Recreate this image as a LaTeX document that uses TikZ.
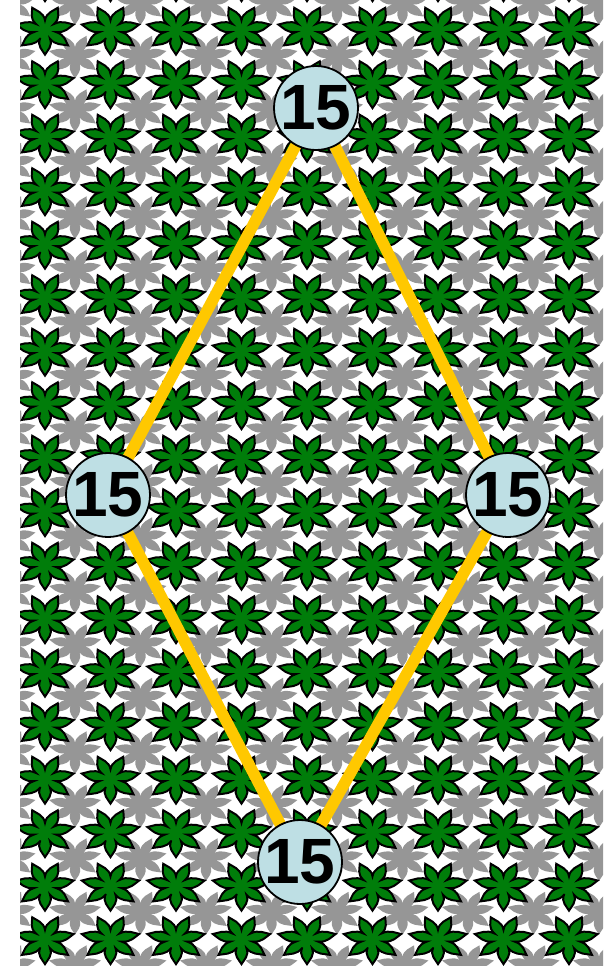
\documentclass[tikz,border=0pt]{standalone}
\usepackage{fontspec}
\setmainfont{Liberation Sans}
\definecolor{leafgreen}{RGB}{0,125,10}
\definecolor{shadowgray}{RGB}{150,150,150}
\definecolor{nodeblue}{RGB}{190,223,228}
\definecolor{edgeyellow}{RGB}{255,200,0}
\pgfdeclarelayer{pattern}
\pgfdeclarelayer{edges}
\pgfsetlayers{pattern,edges,main}
\begin{document}
\begin{tikzpicture}[x=1pt,y=-1pt,
  leafshape/.pic={\path[pic actions] (115.71:11)
    \foreach \a in {90,38.57,-12.86,-64.29,-115.71,-167.14,-218.57} {
      .. controls ({\a+22}:20) and ({\a+6}:23) .. (\a:28)
      .. controls ({\a-6}:23) and ({\a-22}:20) .. ({\a-25.71}:11)
    } -- cycle;},
  leaffill/.style={fill=leafgreen,draw=black,line width=2pt,line join=miter},
  shadowfill/.style={fill=shadowgray},
  numnode/.style={circle,draw=black,line width=1.8pt,fill=nodeblue,minimum size=76pt,inner sep=0pt,
    font=\fontsize{64}{64}\selectfont\bfseries},
  edgeline/.style={draw=edgeyellow,line width=11.5pt}]
\useasboundingbox (0,0) rectangle (603,966);
\begin{pgfonlayer}{pattern}
  \fill[white] (0,0) rectangle (603,966);
  \begin{scope}
    \clip (20,0) rectangle (603,966);
    \foreach \r in {-1,...,18} {
      \foreach \c in {-1,...,9} {
        \pic[shadowfill,xscale=0.95,yscale=0.8] at ({45+65.5*\c+30},{30+53.5*\r+26}) {leafshape};
      }
    }
    \foreach \r in {-1,...,18} {
      \foreach \c in {-1,...,9} {
        \pic[leaffill,xscale=1.05,yscale=0.88] at ({45+65.5*\c},{30+53.5*\r}) {leafshape};
      }
    }
  \end{scope}
\end{pgfonlayer}
\node[numnode] (t) at (316,108) {15};
\node[numnode] (l) at (108,495) {15};
\node[numnode] (r) at (508,495) {15};
\node[numnode] (b) at (300,862) {15};
\begin{pgfonlayer}{edges}
  \draw[edgeline] (t.center) -- (l.center) -- (b.center) -- (r.center) -- (t.center);
\end{pgfonlayer}
\end{tikzpicture}
\end{document}
